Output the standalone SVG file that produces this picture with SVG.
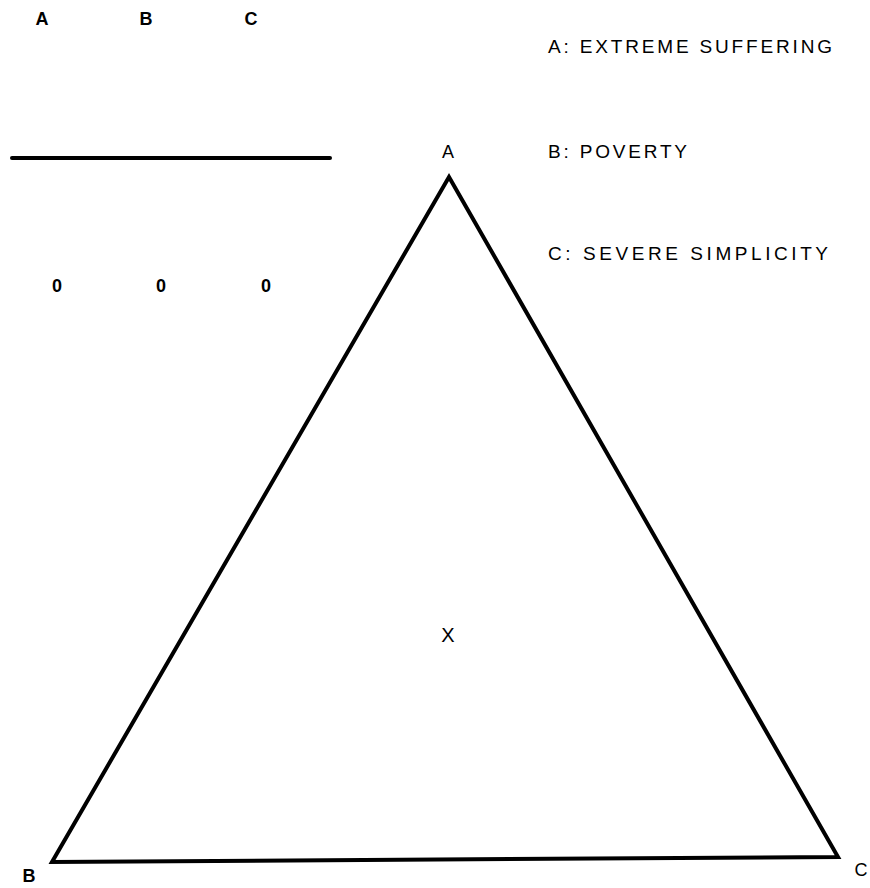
<svg xmlns="http://www.w3.org/2000/svg" width="870" height="888" viewBox="0 0 870 888">
<style>
.t{font-family:"Liberation Sans",Arial,sans-serif;fill:#000;}
.b{font-weight:bold;font-size:18px;text-anchor:middle;}
.l{font-size:19px;}
.m{font-size:18px;text-anchor:middle;}
.ln{stroke:#000;stroke-width:4;fill:none;stroke-linecap:round;stroke-linejoin:miter;}
</style>
<rect width="870" height="888" fill="#fff"/>
<g id="header">
<text class="t b" x="42" y="25">A</text>
<text class="t b" x="146" y="25">B</text>
<text class="t b" x="251" y="25">C</text>
<text class="t b" x="57" y="292">0</text>
<text class="t b" x="161" y="292">0</text>
<text class="t b" x="266" y="292">0</text>
</g>
<g id="legend">
<text class="t l" x="548" y="53" textLength="284" lengthAdjust="spacing">A: EXTREME SUFFERING</text>
<text class="t l" x="548" y="158" textLength="139" lengthAdjust="spacing">B: POVERTY</text>
<text class="t l" x="548" y="260" textLength="280" lengthAdjust="spacing">C: SEVERE SIMPLICITY</text>
</g>
<g id="connectors">
<line class="ln" x1="12" y1="158" x2="330" y2="158"/>
<polygon class="ln" points="449,177 52,862 838,857"/>
</g>
<g id="vertexA"><text class="t m" x="448" y="158">A</text></g>
<g id="vertexB"><text class="t b" x="29" y="882">B</text></g>
<g id="vertexC"><text class="t m" x="861" y="876">C</text></g>
<g id="point"><text class="t m" x="448" y="642" style="font-size:20px">X</text></g>
</svg>
